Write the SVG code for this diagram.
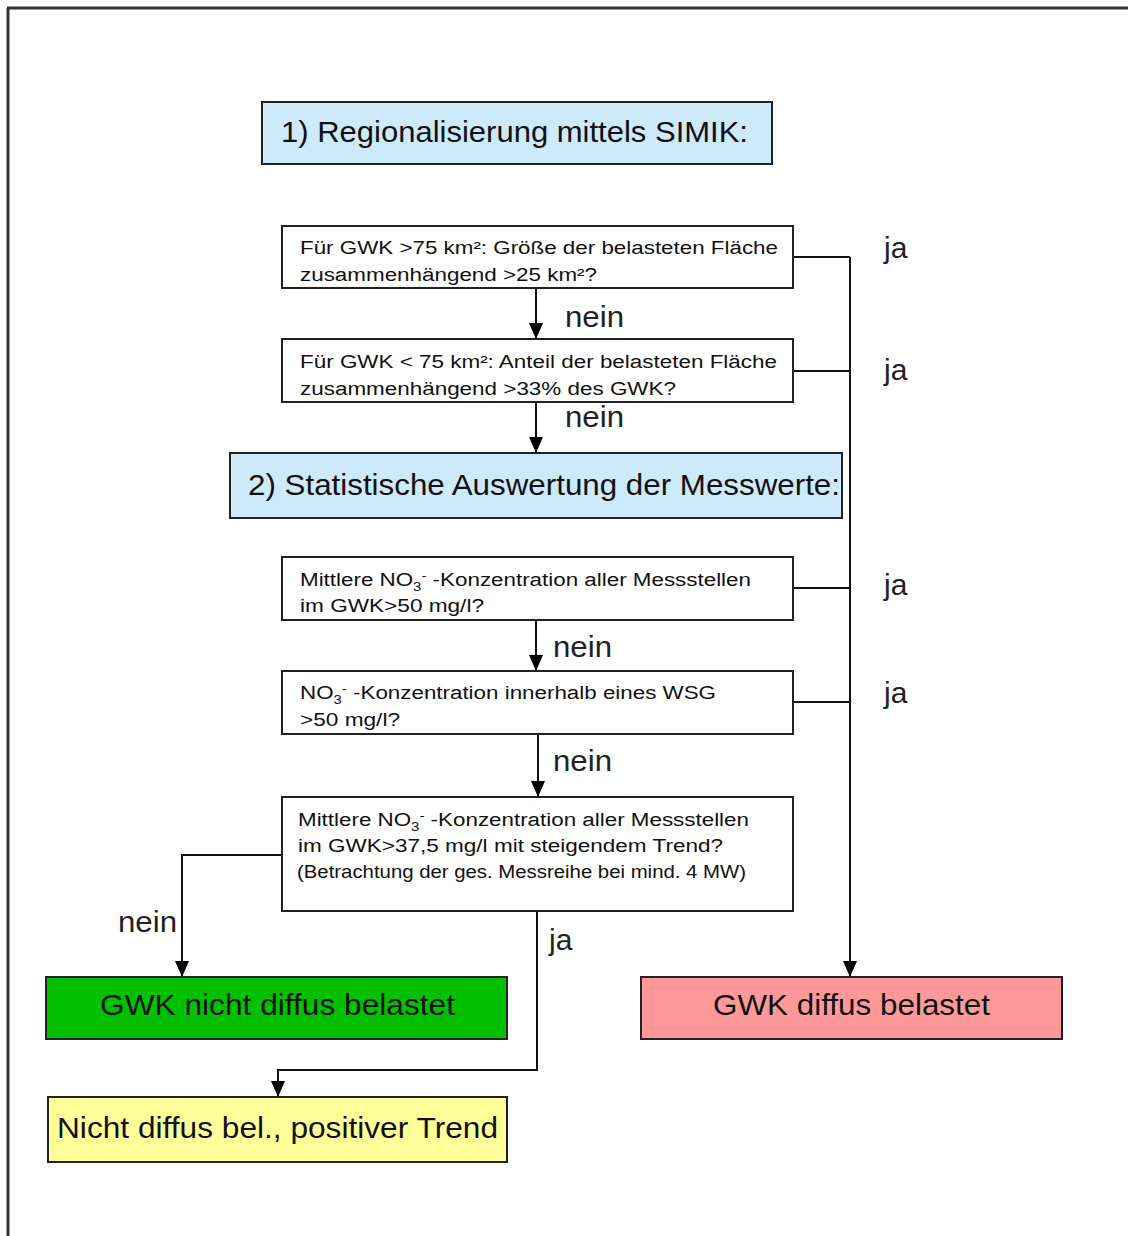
<svg xmlns="http://www.w3.org/2000/svg" width="1128" height="1236" viewBox="0 0 1128 1236">
<style>
.box{stroke:#222;stroke-width:2}
.q{fill:#fff}
.hdr{fill:#cde9fa}
.t{font-family:"Liberation Sans",Arial,sans-serif;fill:#111}
.s{font-size:18px}
.b{font-size:30px}
.lbl{font-size:30px;fill:#222}
.c{fill:none;stroke:#111;stroke-width:2}
</style>
<defs>
<marker id="ad" markerUnits="userSpaceOnUse" markerWidth="16" markerHeight="14" refX="16" refY="7" orient="auto" viewBox="0 0 16 14">
<path d="M0,0 L16,7 L0,14 Z" fill="#000"/>
</marker>
</defs>
<rect width="1128" height="1236" fill="#fff"/>
<path d="M7,8 H1128 M8,8 V1236" fill="none" stroke="#333" stroke-width="3"/>

<g id="connectors">
<path class="c" d="M536,288 V339" marker-end="url(#ad)"/>
<path class="c" d="M536,402 V453" marker-end="url(#ad)"/>
<path class="c" d="M536,620 V671" marker-end="url(#ad)"/>
<path class="c" d="M538,734 V797" marker-end="url(#ad)"/>
<path class="c" d="M793,257 H850 M793,371 H850 M793,588 H850 M793,702 H850"/>
<path class="c" d="M850,257 V977" marker-end="url(#ad)"/>
<path class="c" d="M282,855 H182 V977" marker-end="url(#ad)"/>
<path class="c" d="M537,911 V1070 H278 V1097" marker-end="url(#ad)"/>
<text class="t lbl" x="565" y="327" textLength="59" lengthAdjust="spacingAndGlyphs">nein</text>
<text class="t lbl" x="565" y="427" textLength="59" lengthAdjust="spacingAndGlyphs">nein</text>
<text class="t lbl" x="553" y="657" textLength="59" lengthAdjust="spacingAndGlyphs">nein</text>
<text class="t lbl" x="553" y="771" textLength="59" lengthAdjust="spacingAndGlyphs">nein</text>
<text class="t lbl" x="118" y="932" textLength="59" lengthAdjust="spacingAndGlyphs">nein</text>
<text class="t lbl" x="884" y="258">ja</text>
<text class="t lbl" x="884" y="380">ja</text>
<text class="t lbl" x="884" y="595">ja</text>
<text class="t lbl" x="884" y="703">ja</text>
<text class="t lbl" x="549" y="950">ja</text>
</g>

<g id="n1">
<rect class="box hdr" x="262" y="102" width="510" height="62"/>
<text class="t b" x="281" y="142" textLength="467" lengthAdjust="spacingAndGlyphs">1) Regionalisierung mittels SIMIK:</text>
</g>

<g id="q1">
<rect class="box q" x="282" y="226" width="511" height="62"/>
<text class="t s" x="300" y="254" textLength="478" lengthAdjust="spacingAndGlyphs">Für GWK &gt;75 km²: Größe der belasteten Fläche</text>
<text class="t s" x="300" y="281" textLength="297" lengthAdjust="spacingAndGlyphs">zusammenhängend &gt;25 km²?</text>
</g>

<g id="q2">
<rect class="box q" x="282" y="339" width="511" height="63"/>
<text class="t s" x="300" y="368" textLength="477" lengthAdjust="spacingAndGlyphs">Für GWK &lt; 75 km²: Anteil der belasteten Fläche</text>
<text class="t s" x="300" y="395" textLength="376" lengthAdjust="spacingAndGlyphs">zusammenhängend &gt;33% des GWK?</text>
</g>

<g id="n2">
<rect class="box hdr" x="230" y="453" width="612" height="65"/>
<text class="t b" x="248" y="495" textLength="592" lengthAdjust="spacingAndGlyphs">2) Statistische Auswertung der Messwerte:</text>
</g>

<g id="q3">
<rect class="box q" x="282" y="557" width="511" height="63"/>
<text class="t s" x="300" y="586" textLength="451" lengthAdjust="spacingAndGlyphs">Mittlere NO<tspan font-size="12" dy="5">3</tspan><tspan font-size="12" dy="-11">-</tspan><tspan dy="6"> -Konzentration aller Messstellen</tspan></text>
<text class="t s" x="300" y="612" textLength="184" lengthAdjust="spacingAndGlyphs">im GWK&gt;50 mg/l?</text>
</g>

<g id="q4">
<rect class="box q" x="282" y="671" width="511" height="63"/>
<text class="t s" x="300" y="699" textLength="416" lengthAdjust="spacingAndGlyphs">NO<tspan font-size="12" dy="5">3</tspan><tspan font-size="12" dy="-11">-</tspan><tspan dy="6"> -Konzentration innerhalb eines WSG</tspan></text>
<text class="t s" x="300" y="726" textLength="100" lengthAdjust="spacingAndGlyphs">&gt;50 mg/l?</text>
</g>

<g id="q5">
<rect class="box q" x="282" y="797" width="511" height="114"/>
<text class="t s" x="298" y="826" textLength="451" lengthAdjust="spacingAndGlyphs">Mittlere NO<tspan font-size="12" dy="5">3</tspan><tspan font-size="12" dy="-11">-</tspan><tspan dy="6"> -Konzentration aller Messstellen</tspan></text>
<text class="t s" x="298" y="852" textLength="425" lengthAdjust="spacingAndGlyphs">im GWK&gt;37,5 mg/l mit steigendem Trend?</text>
<text class="t s" x="297" y="878" textLength="449" lengthAdjust="spacingAndGlyphs">(Betrachtung der ges. Messreihe bei mind. 4 MW)</text>
</g>

<g id="green">
<rect class="box" x="46" y="977" width="461" height="62" fill="#00c000"/>
<text class="t b" x="100" y="1015" textLength="355" lengthAdjust="spacingAndGlyphs">GWK nicht diffus belastet</text>
</g>

<g id="red">
<rect class="box" x="641" y="977" width="421" height="62" fill="#ff9999"/>
<text class="t b" x="713" y="1015" textLength="277" lengthAdjust="spacingAndGlyphs">GWK diffus belastet</text>
</g>

<g id="yellow">
<rect class="box" x="48" y="1097" width="459" height="65" fill="#ffff99"/>
<text class="t b" x="57" y="1138" textLength="441" lengthAdjust="spacingAndGlyphs">Nicht diffus bel., positiver Trend</text>
</g>
</svg>
